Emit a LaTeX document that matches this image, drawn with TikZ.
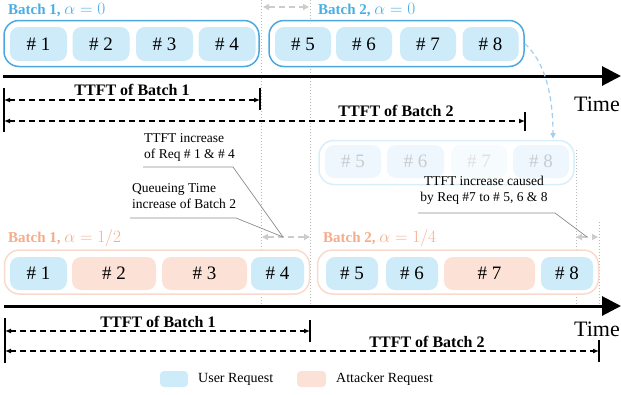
\documentclass[tikz,border=0pt]{standalone}
\usepackage{fontspec}
\setmainfont{Liberation Serif}
\usetikzlibrary{arrows.meta,calc}
\definecolor{ublue}{HTML}{CDEBF8}
\definecolor{bstroke}{HTML}{4BA9DF}
\definecolor{btitle}{HTML}{4AAEE3}
\definecolor{ored}{HTML}{FBE1D6}
\definecolor{ostroke}{HTML}{F9DACC}
\definecolor{otitle}{HTML}{F4AC8A}
\definecolor{ghostfill}{HTML}{EEF7FD}
\definecolor{ghoststroke}{HTML}{D9EEFB}
\definecolor{ghosttext}{HTML}{C9CCCE}
\definecolor{dotgray}{HTML}{B8B8B8}
\definecolor{garrow}{HTML}{CCCCCC}
\definecolor{curveblue}{HTML}{A3CDEF}
\definecolor{leadgray}{HTML}{8C8C8C}
\newcommand\titlemath[1]{{\fontsize{19}{20}\selectfont$#1$}}
\begin{document}
\begin{tikzpicture}[x=1pt,y=-1pt,
  req/.style={rounded corners=9pt, minimum height=34pt, inner sep=0pt, font=\fontsize{19}{20}\selectfont},
  ureq/.style={req, fill=ublue},
  areq/.style={req, fill=ored},
  greq/.style={req, fill=ghostfill, text=ghosttext, minimum height=33pt},
  outerb/.style={draw=bstroke, fill=white, line width=1.5pt, rounded corners=15pt, inner sep=0pt, minimum height=46pt},
  outero/.style={draw=ostroke, fill=white, line width=1.5pt, rounded corners=15pt, inner sep=0pt, minimum height=44pt},
  outerg/.style={draw=ghoststroke, fill=white, line width=1.5pt, rounded corners=15pt, inner sep=0pt, minimum height=44pt},
  btitlestyle/.style={anchor=west, inner sep=0pt, text=btitle, font=\fontsize{15}{16}\selectfont\bfseries},
  otitlestyle/.style={anchor=west, inner sep=0pt, text=otitle, font=\fontsize{15}{16}\selectfont\bfseries},
  timeline/.style={line width=3pt, -{Triangle[length=19pt,width=19pt]}},
  timelabel/.style={inner sep=0pt, font=\fontsize{22}{24}\selectfont},
  ttft/.style={line width=1.3pt, dash pattern=on 6pt off 4pt, {Latex[length=6pt,width=5pt]}-{Latex[length=6pt,width=5pt]}},
  ttftlabel/.style={inner sep=0pt, font=\fontsize{16}{17}\selectfont\bfseries},
  bar/.style={line width=1.8pt},
  vdot/.style={dotgray, line width=1pt, dotted},
  gray arrow/.style={garrow, line width=1.3pt, dash pattern=on 6pt off 4pt, {Triangle[length=6pt,width=6pt]}-{Triangle[length=6pt,width=6pt]}},
  lead/.style={leadgray, line width=0.7pt},
  note/.style={inner sep=0pt, font=\fontsize{13.5}{16}\selectfont},
  legendtext/.style={anchor=west, inner sep=0pt, font=\fontsize{14}{16}\selectfont},
]
\useasboundingbox (0,0) rectangle (621,394);

% dotted guides
\coordinate (d1t) at (261,0);   \coordinate (d1b) at (261,306);
\coordinate (d2t) at (310,0);   \coordinate (d2b) at (310,306);
\coordinate (d3t) at (576,150); \coordinate (d3b) at (576,306);
\coordinate (d4t) at (599,222); \coordinate (d4b) at (599,306);
\draw[vdot] (d1t) -- (d1b);
\draw[vdot] (d2t) -- (d2b);
\draw[vdot] (d3t) -- (d3b);
\draw[vdot] (d4t) -- (d4b);

% ---------- scenario 1 ----------
\node[btitlestyle] (t1) at (8,10) {Batch 1, \titlemath{\alpha = 0}};
\node[btitlestyle] (t2) at (318,10) {Batch 2, \titlemath{\alpha = 0}};

\coordinate (q0l) at (263,7); \coordinate (q0r) at (309,7);
\draw[gray arrow] (q0l) -- (q0r);

\node[outerb, minimum width=255pt] (o1) at (131.5,43.5) {};
\node[outerb, minimum width=255pt] (o2) at (396.5,43.5) {};
\node[ureq, minimum width=57pt] (a1) at (38.5,44) {\# 1};
\node[ureq, minimum width=57pt] (a2) at (101,44) {\# 2};
\node[ureq, minimum width=57pt] (a3) at (164.5,44) {\# 3};
\node[ureq, minimum width=57pt] (a4) at (227,44) {\# 4};
\node[ureq, minimum width=56pt] (a5) at (303,44) {\# 5};
\node[ureq, minimum width=56pt] (a6) at (364,44) {\# 6};
\node[ureq, minimum width=56pt] (a7) at (428,44) {\# 7};
\node[ureq, minimum width=56pt] (a8) at (490.5,44) {\# 8};

\coordinate (tl1s) at (3,76); \coordinate (tl1e) at (621,76);
\draw[timeline] (tl1s) -- (tl1e);
\node[timelabel] (time1) at (597,104) {Time};

\coordinate (b1t) at (4,88);   \coordinate (b1b) at (4,132);
\coordinate (b2t) at (260,88); \coordinate (b2b) at (260,110);
\coordinate (b3t) at (525,112);\coordinate (b3b) at (525,131);
\draw[bar] (b1t) -- (b1b);
\draw[bar] (b2t) -- (b2b);
\draw[bar] (b3t) -- (b3b);
\coordinate (r1l) at (4,100); \coordinate (r1r) at (260,100);
\coordinate (r2l) at (4,121); \coordinate (r2r) at (525,121);
\draw[ttft] (r1l) -- (r1r);
\draw[ttft] (r2l) -- (r2r);
\node[ttftlabel] (lab1) at (132,90) {TTFT of Batch 1};
\node[ttftlabel] (lab2) at (396,111) {TTFT of Batch 2};

% ghost batch
\node[outerg, minimum width=255pt] (og) at (446.5,162.5) {};
\node[greq, minimum width=56pt] (g5) at (353,161.5) {\# 5};
\node[greq, minimum width=57pt] (g6) at (415.5,161.5) {\# 6};
\node[greq, minimum width=56pt, fill=ghostfill!55!white, text=ghosttext!60!white] (g7) at (479,161.5) {\# 7};
\node[greq, minimum width=56pt] (g8) at (541,161.5) {\# 8};

\coordinate (gtop) at (553,139);
\draw[curveblue, line width=1.2pt, dash pattern=on 5pt off 3.5pt, -{Latex[length=6pt,width=6pt]}]
  (o2.east) .. controls (545,62) and (553,95) .. (gtop);

% annotations
\node[note, align=left, anchor=north west] (n1) at (144,133) {TTFT increase\\of Req \# 1 \& \# 4};
\node[note, align=left, anchor=north west] (n2) at (132,183) {Queueing Time\\increase of Batch 2};
\node[note, align=center] (n3) at (484,190.5) {TTFT increase caused\\by Req \#7 to \# 5, 6 \& 8};

\coordinate (qa) at (262,237); \coordinate (qb) at (310,237); \coordinate (qm) at (283,237);
\coordinate (ca) at (576,237); \coordinate (cb) at (598,237); \coordinate (cm) at (587,237);
\draw[gray arrow] (qa) -- (qb);
\draw[gray arrow] (ca) -- (cb);

\coordinate (u1a) at (143,167); \coordinate (u1b) at (233,167);
\coordinate (u2a) at (130,218); \coordinate (u2b) at (236,218);
\coordinate (u3a) at (418,213); \coordinate (u3b) at (555,213);
\draw[lead] (u1a) -- (u1b) -- (qm);
\draw[lead] (u2a) -- (u2b) -- (qm);
\draw[lead] (u3a) -- (u3b) -- (cm);

% ---------- scenario 2 ----------
\node[otitlestyle] (t3) at (8,238) {Batch 1, \titlemath{\alpha = 1/2}};
\node[otitlestyle] (t4) at (323,238) {Batch 2, \titlemath{\alpha = 1/4}};

\node[outero, minimum width=305pt] (o3) at (157,272) {};
\node[outero, minimum width=281pt] (o4) at (458,272) {};
\node[ureq, minimum width=57pt, minimum height=33pt] (c1) at (38.5,273.5) {\# 1};
\node[areq, minimum width=84pt, minimum height=33pt] (c2) at (114,273.5) {\# 2};
\node[areq, minimum width=85pt, minimum height=33pt] (c3) at (204.5,273.5) {\# 3};
\node[ureq, minimum width=53pt, minimum height=33pt] (c4) at (277.5,273.5) {\# 4};
\node[ureq, minimum width=52pt, minimum height=33pt] (c5) at (352,273.5) {\# 5};
\node[ureq, minimum width=52pt, minimum height=33pt] (c6) at (412,273.5) {\# 6};
\node[areq, minimum width=91pt, minimum height=33pt] (c7) at (489.5,273.5) {\# 7};
\node[ureq, minimum width=52pt, minimum height=33pt] (c8) at (567,273.5) {\# 8};

\coordinate (tl2s) at (4,306); \coordinate (tl2e) at (621,306);
\draw[timeline] (tl2s) -- (tl2e);
\node[timelabel] (time2) at (597,329) {Time};

\coordinate (e1t) at (5,318);   \coordinate (e1b) at (5,363);
\coordinate (e2t) at (310,320); \coordinate (e2b) at (310,342);
\coordinate (e3t) at (599,340); \coordinate (e3b) at (599,362);
\draw[bar] (e1t) -- (e1b);
\draw[bar] (e2t) -- (e2b);
\draw[bar] (e3t) -- (e3b);
\coordinate (s1l) at (5,331); \coordinate (s1r) at (310,331);
\coordinate (s2l) at (5,351); \coordinate (s2r) at (599,351);
\draw[ttft] (s1l) -- (s1r);
\draw[ttft] (s2l) -- (s2r);
\node[ttftlabel] (lab3) at (158,322) {TTFT of Batch 1};
\node[ttftlabel] (lab4) at (427,342) {TTFT of Batch 2};

% legend
\node[fill=ublue, rounded corners=4pt, minimum width=28pt, minimum height=16pt, inner sep=0pt] (lu) at (174,379) {};
\node[legendtext] (lut) at (198,379) {User Request};
\node[fill=ored, rounded corners=4pt, minimum width=29pt, minimum height=16pt, inner sep=0pt] (la) at (311.5,379) {};
\node[legendtext] (lat) at (336,379) {Attacker Request};
\end{tikzpicture}
\end{document}
